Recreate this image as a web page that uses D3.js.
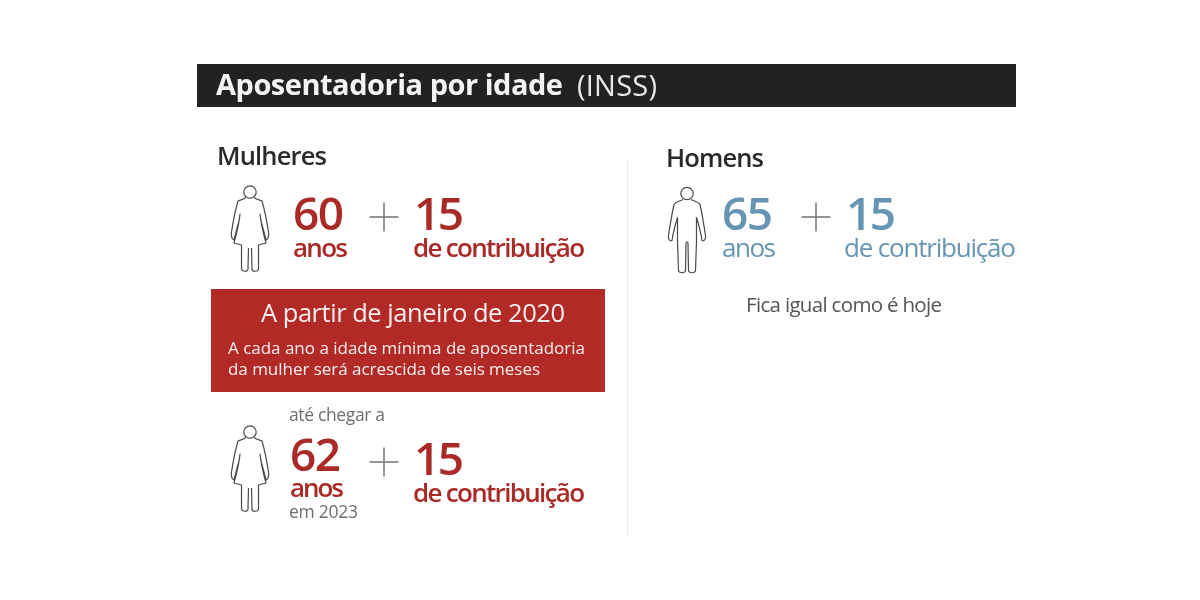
<!DOCTYPE html>
<html><head><meta charset="utf-8">
<script src="https://cdn.jsdelivr.net/npm/d3@7"></script>
<style>html,body{margin:0;padding:0;background:#fff}svg{display:block;filter:blur(0.35px)}text{font-family:"Open Sans",sans-serif}</style>
</head><body><svg id="c" width="1200" height="600"></svg>
<script>
const titleMain = "Aposentadoria por idade";
const titleSub = "(INSS)";
const groups = ["Mulheres", "Homens"];
const ages = [60, 65, 62];
const contribution = 15;
const unitAge = "anos";
const unitContribution = "de contribuição";
const bannerHead = "A partir de janeiro de 2020";
const bannerBody = ["A cada ano a idade mínima de aposentadoria", "da mulher será acrescida de seis meses"];
const noteUntil = "até chegar a";
const noteYear = "em 2023";
const noteMen = "Fica igual como é hoje";

const RED = "#a92a27", BLUE = "#6595b2", DARK = "#2a2a2a", GREY = "#6f6f6f";
const svg = d3.select("#c");

function label(str, x, y, size, weight, fill, width, anchor) {
  const t = svg.append("text").attr("x", x).attr("y", y).attr("font-size", size)
    .attr("font-weight", weight).attr("fill", fill).attr("text-anchor", anchor || "start").text(str);
  if (width) t.attr("textLength", width).attr("lengthAdjust", "spacing");
  return t;
}

// Title bar
svg.append("rect").attr("x", 197).attr("y", 64).attr("width", 819).attr("height", 43).attr("fill", "#222222");
label(titleMain, 216, 95, 29, 700, "#f4f4f4", 347);
label(titleSub, 577, 96, 29, 400, "#e8e8e8", 80);

// Divider
svg.append("line").attr("x1", 627.5).attr("x2", 627.5).attr("y1", 160).attr("y2", 538)
  .attr("stroke", "#ececec").attr("stroke-width", 1);

// Group headings
label(groups[0], 217, 165, 25.5, 600, DARK, 110);
label(groups[1], 666, 167, 25.5, 600, DARK, 98);

// Figures
const woman = "M-4,11.5 C-7,14 -10,14 -12,15 C-14,22 -17,36 -18.5,46 C-19,50 -18,53 -16,54 C-15,50 -13.5,44 -11,35 L-10,28 C-11,38 -14,50 -16,57 L-8.5,59 L-8.5,83 C-8,86 -2,86 -2,83 L-1.5,62 M1.5,62 L2,83 C2,86 8,86 8.5,83 L8.5,59 L16,57 C14,50 11,38 10,28 L11,35 C13.5,44 15,50 16,54 C18,53 19,50 18.5,46 C17,36 14,22 12,15 C10,14 7,14 4,11.5";
const man = "M-4,12 C-8,14 -11,14 -13,17 C-15,26 -17,38 -18.5,48 C-19,52 -17,54 -15,53 C-14,46 -12,38 -9.5,30 L-9.5,54 L-8.5,83 C-8,86 -2,86 -1.5,83 L-1,56 C-1,54 1,54 1,56 L1.5,83 C2,86 8,86 8.5,83 L9.5,54 L9.5,30 C12,38 14,46 15,53 C17,54 19,52 18.5,48 C17,38 15,26 13,17 C11,14 8,14 4,12";
function figure(d, cx, top) {
  const g = svg.append("g").attr("transform", `translate(${cx},${top})`)
    .attr("fill", "none").attr("stroke", "#4a4a4a").attr("stroke-width", 1.2).attr("stroke-linejoin", "round");
  g.append("circle").attr("cx", 0).attr("cy", 6).attr("r", 6.2);
  g.append("path").attr("d", d);
}
figure(woman, 250, 186);
figure(man, 687, 187.5);
figure(woman, 250, 426);

// Plus sign
function plus(cx, cy) {
  const g = svg.append("g").attr("stroke", "#7c7c7c").attr("stroke-width", 1.6);
  g.append("line").attr("x1", cx - 14.5).attr("x2", cx + 14.5).attr("y1", cy).attr("y2", cy);
  g.append("line").attr("x1", cx).attr("x2", cx).attr("y1", cy - 14.5).attr("y2", cy + 14.5);
}

function formula(age, xAge, yAge, xAnos, yAnos, xPlus, yPlus, x15, y15, xDe, yDe, color, anosWeight, deWeight, anosW, deW) {
  label(String(age), xAge, yAge, 46, 600, color, 51);
  label(unitAge, xAnos, yAnos, 26, anosWeight, color, anosW);
  plus(xPlus, yPlus);
  label(String(contribution), x15, y15, 46, 600, color, 50);
  label(unitContribution, xDe, yDe, 26, deWeight, color, deW);
}
formula(ages[0], 293, 230, 293, 257, 384, 217, 414, 230, 413, 257, RED, 600, 600, 55, 172);
formula(ages[1], 722, 230, 722, 257, 816, 217, 846, 230, 844, 257, BLUE, 400, 400, 54, 172);
formula(ages[2], 290, 471, 290, 497, 384, 462, 414, 475, 413, 502, RED, 600, 600, 54, 172);

// Banner
svg.append("rect").attr("x", 211).attr("y", 289).attr("width", 394).attr("height", 103).attr("fill", "#b22a26");
label(bannerHead, 261, 322, 25.5, 400, "#fbeeee", 304);
label(bannerBody[0], 228, 354, 17, 400, "#fbeeee", 357);
label(bannerBody[1], 228, 375, 17, 400, "#fbeeee", 312);

// Notes
label(noteUntil, 289, 421, 17.5, 400, GREY, 96);
label(noteYear, 289, 518, 17.5, 400, GREY, 69);
label(noteMen, 746, 312, 20.5, 400, "#555555", 196);
</script></body></html>
